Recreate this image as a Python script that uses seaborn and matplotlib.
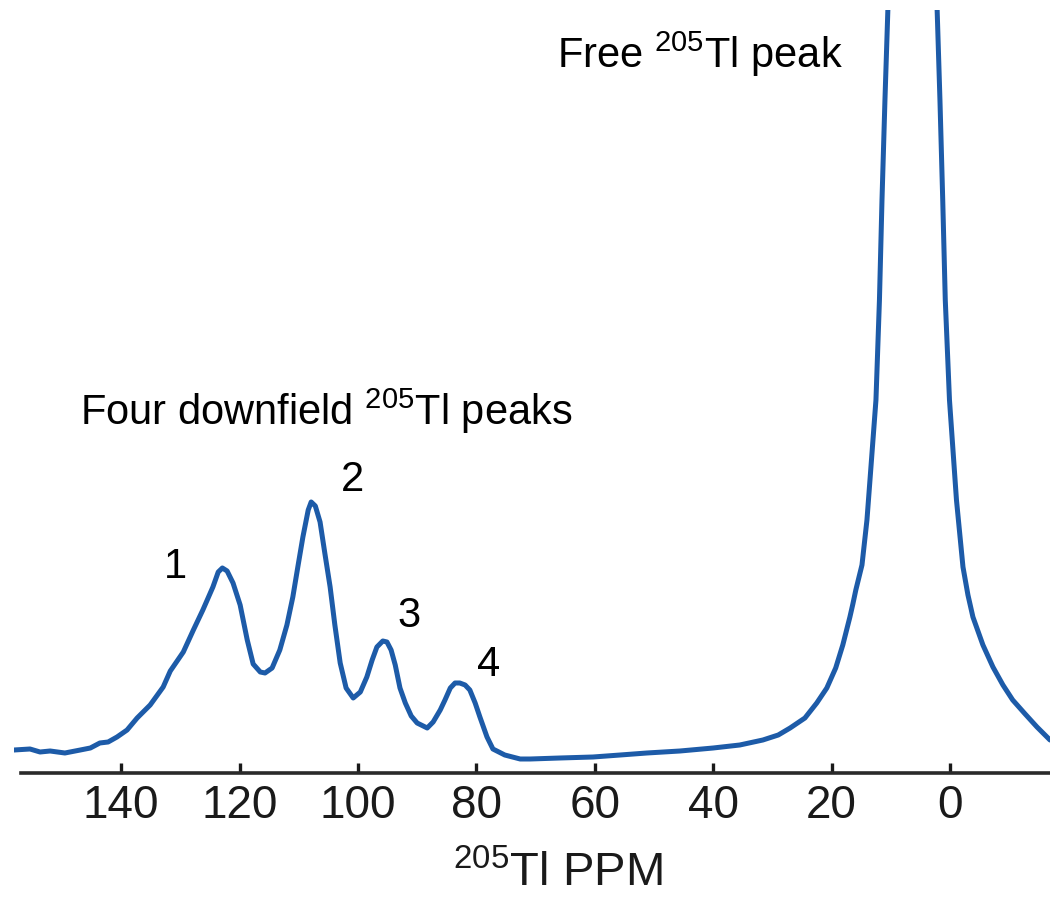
import numpy as np
import pandas as pd
import matplotlib
matplotlib.use("Agg")
import matplotlib.pyplot as plt
import seaborn as sns

# ---- data (chemical shift in ppm, intensity in arbitrary units)
ppm = [158.1, 155.4, 153.7, 152.0, 149.5, 146.9, 145.2, 143.6, 142.2, 140.7,
       139.0, 137.3, 135.1, 132.9, 131.7, 129.5, 127.8, 126.2, 124.5, 123.6,
       122.9, 122.1, 121.1, 119.9, 118.7, 117.7, 116.5, 115.7, 114.5, 113.2,
       112.0, 111.0, 110.1, 109.3, 108.4, 107.9, 107.2, 106.4, 105.6, 104.7,
       103.9, 103.0, 102.0, 100.8, 99.6, 98.5, 97.6, 96.8, 95.8, 95.1,
       94.4, 93.7, 92.9, 92.0, 91.0, 90.0, 88.3, 87.3, 86.1, 85.3,
       84.4, 83.6, 82.8, 81.9, 81.1, 80.2, 79.4, 78.2, 77.2, 75.2,
       72.6, 70.9, 65.9, 60.3, 55.7, 51.2, 45.6, 40.0, 35.5, 31.6,
       29.0, 27.0, 24.5, 22.5, 20.8, 19.3, 18.1, 16.9, 16.4, 15.9,
       15.4, 14.86, 14.02, 13.51, 12.50, 11.91, 11.48, 10.98, 10.45, 6.4,
       2.2, 1.69, 1.22, 0.79, 0.08, -1.10, -2.20, -3.04, -3.88, -5.57,
       -7.26, -8.95, -10.6, -12.7, -14.7, -16.9]
intensity = [0.23, 0.24, 0.21, 0.22, 0.20, 0.23, 0.25, 0.30, 0.31, 0.36,
             0.43, 0.55, 0.68, 0.86, 1.02, 1.21, 1.43, 1.63, 1.86, 2.01,
             2.05, 2.02, 1.90, 1.68, 1.33, 1.09, 1.01, 1.00, 1.05, 1.23,
             1.48, 1.76, 2.08, 2.36, 2.63, 2.71, 2.67, 2.51, 2.20, 1.86,
             1.48, 1.10, 0.85, 0.75, 0.81, 0.96, 1.13, 1.26, 1.32, 1.31,
             1.23, 1.08, 0.85, 0.70, 0.57, 0.50, 0.45, 0.51, 0.63, 0.73,
             0.85, 0.90, 0.90, 0.88, 0.83, 0.70, 0.56, 0.36, 0.24, 0.18,
             0.14, 0.14, 0.15, 0.16, 0.18, 0.20, 0.22, 0.25, 0.28, 0.33,
             0.38, 0.45, 0.55, 0.70, 0.85, 1.05, 1.28, 1.56, 1.69, 1.83,
             1.95, 2.08, 2.53, 2.93, 3.73, 4.73, 5.73, 6.73, 7.70, 12.0,
             7.70, 6.73, 5.73, 4.73, 3.73, 2.73, 2.06, 1.78, 1.56, 1.28,
             1.06, 0.88, 0.73, 0.59, 0.46, 0.33]

tick_values = [140, 120, 100, 80, 60, 40, 20, 0]
peak_labels = ["1", "2", "3", "4"]
peak_label_ppm = [130.9, 101.0, 91.4, 78.0]
peak_label_int = [2.06, 2.93, 1.57, 1.08]

df = pd.DataFrame({"ppm": ppm, "intensity": intensity})

sns.set_style("white")
plt.rcParams["font.family"] = ["Liberation Sans", "DejaVu Sans"]
plt.rcParams["mathtext.fontset"] = "custom"
plt.rcParams["mathtext.rm"] = "Liberation Sans"
plt.rcParams["mathtext.it"] = "Liberation Sans:italic"
plt.rcParams["mathtext.bf"] = "Liberation Sans:bold"

fig = plt.figure(figsize=(10.5, 8.98), dpi=100)
ax = fig.add_axes([0.01333, 0.1392, 0.98667, 0.8497])

sns.lineplot(data=df, x="ppm", y="intensity", sort=False, estimator=None,
             color="#1d5ba8", linewidth=3.6, solid_joinstyle="round",
             solid_capstyle="round", ax=ax)

ax.set_xlim(158.1, -16.9)
ax.set_ylim(0, 7.63)

for s in ["left", "right", "top"]:
    ax.spines[s].set_visible(False)
ax.spines["bottom"].set_color("#2a2a2a")
ax.spines["bottom"].set_linewidth(2.6)
ax.spines["bottom"].set_bounds(156.9, -16.9)

ax.set_yticks([])
ax.set_xticks(tick_values)
ax.set_xticklabels([str(v) for v in tick_values])
ax.tick_params(axis="x", bottom=True, direction="in", length=7, width=2.4,
               color="#1a1a1a", labelsize=33, pad=8, labelcolor="#1a1a1a")
ax.set_ylabel("")

ax.set_xlabel(r"$^{\mathrm{205}}$Tl PPM", fontsize=34, color="#1a1a1a")
ax.xaxis.set_label_coords(0.525, -0.149)
ax.xaxis.label.set_va("baseline")

for lab, xv, yv in zip(peak_labels, peak_label_ppm, peak_label_int):
    ax.text(xv, yv, lab, fontsize=30, ha="center", va="center", color="black")

ax.text(146.9, 3.48, r"Four downfield $^{\mathrm{205}}$Tl peaks", fontsize=30,
        ha="left", va="baseline", color="black")
ax.text(66.4, 7.05, r"Free $^{\mathrm{205}}$Tl peak", fontsize=30,
        ha="left", va="baseline", color="black")

fig.savefig("out.png", dpi=100, facecolor="white")
